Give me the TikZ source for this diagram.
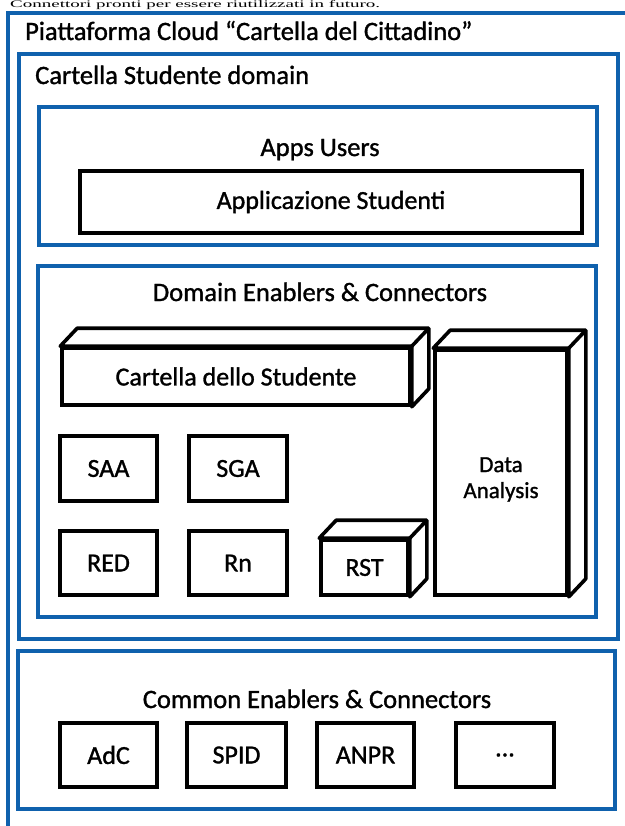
\documentclass[tikz,border=0pt]{standalone}
\usepackage{fontspec}
\setmainfont{Carlito}[RawFeature={embolden=1.2}]
\newfontfamily\noteserif{Liberation Serif}[FakeStretch=1.9]
\usetikzlibrary{calc}

\definecolor{frameblue}{rgb}{0.06, 0.38, 0.68}

\tikzset{
  frame/.style={draw=frameblue, line width=3.4pt},
  title/.style={anchor=base west, inner sep=0pt, font=\fontsize{26.5}{31}\selectfont},
  heading/.style={anchor=base, inner sep=0pt, font=\fontsize{26.5}{31}\selectfont},
  block/.style={draw=black, line width=3.6pt, fill=white, inner sep=0pt, font=\fontsize{26}{31}\selectfont},
  face/.style={draw=black, line width=3.6pt, fill=white, line join=round}
}

% top and right faces of a solid block, drawn behind its front node
\newcommand{\solidfaces}[1]{
  \draw[face] (#1.north west) -- ++(17,-18) -- ($(#1.north east)+(17,-18)$) -- ($(#1.south east)+(17,-18)$) -- (#1.south east) -- (#1.north east) -- cycle;
  \draw[face] (#1.north east) -- ++(17,-18);
}

\begin{document}
\begin{tikzpicture}[x=1pt,y=1pt,yscale=-1,xscale=1]
  \useasboundingbox (0,0) rectangle (624,826);

  % Line of the page text above the diagram
  \node[anchor=base west, inner sep=0pt, font=\noteserif\fontsize{10}{12}\selectfont] (note) at (10,8) {Connettori pronti per essere riutilizzati in futuro.};

  % Blue frames
  \draw[frame] (8,13) rectangle (640,840);
  \draw[frame] (19,54) rectangle (618,639);
  \draw[frame] (39,107) rectangle (597,245);
  \draw[frame] (38,266) rectangle (596,617);
  \draw[frame] (18,651) rectangle (615,809);

  % Frame titles
  \node[title] (cloud) at (25,40) {Piattaforma Cloud “Cartella del Cittadino”};
  \node[title] (domain) at (35,84) {Cartella Studente domain};
  \node[heading] (apps) at (320,156) {Apps Users};
  \node[heading] (enablers) at (320,301) {Domain Enablers \& Connectors};
  \node[heading] (common) at (317,708) {Common Enablers \& Connectors};

  % Apps Users
  \node[block, minimum width=502, minimum height=62] (appstud) at (331,202) {Applicazione Studenti};

  % Domain enablers: solid blocks
  \node[block, minimum width=348, minimum height=57] (cds) at (236,376.5) {};
  \solidfaces{cds}
  \node[block, minimum width=348, minimum height=57] at (cds) {Cartella dello Studente};

  \node[block, minimum width=132, minimum height=245] (da) at (501,472.5) {};
  \solidfaces{da}
  \node[block, minimum width=132, minimum height=245] at (da) {};
  \node[align=center, inner sep=0pt, font=\fontsize{23}{26}\selectfont] (datext) at ($(da)+(0,7)$) {Data\\Analysis};

  \node[block, minimum width=87, minimum height=55] (rst) at (364.5,567.5) {};
  \solidfaces{rst}
  \node[block, minimum width=87, minimum height=55] at (rst) {RST};

  % Domain enablers: flat blocks
  \node[block, minimum width=97, minimum height=65] (saa) at (108.5,468.5) {SAA};
  \node[block, minimum width=98, minimum height=65] (sga) at (238,468.5) {SGA};
  \node[block, minimum width=97, minimum height=64] (red) at (108.5,563) {RED};
  \node[block, minimum width=98, minimum height=64] (rn) at (238,563) {Rn};

  % Common enablers
  \node[block, minimum width=97, minimum height=64] (adc) at (108.5,755) {AdC};
  \node[block, minimum width=99, minimum height=64] (spid) at (236.5,755) {SPID};
  \node[block, minimum width=97, minimum height=64] (anpr) at (365.5,755) {ANPR};
  \node[block, minimum width=98, minimum height=64] (more) at (505,755) {...};
\end{tikzpicture}
\end{document}
